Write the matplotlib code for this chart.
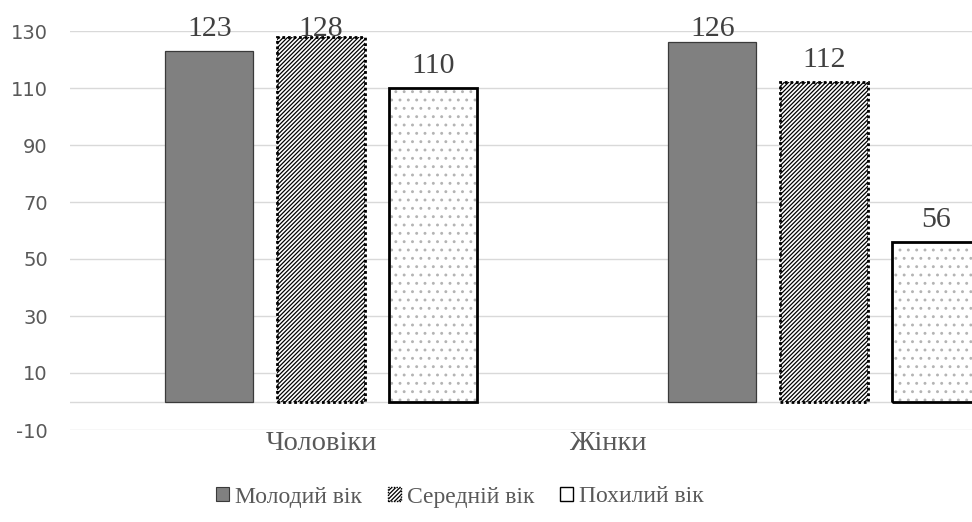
import matplotlib
matplotlib.use("Agg")
import matplotlib.pyplot as plt
import numpy as np
from matplotlib.patches import Patch
from matplotlib.transforms import ScaledTranslation

categories = ["Чоловіки", "Жінки"]
series_names = ["Молодий вік", "Середній вік", "Похилий вік"]
young = [123, 126]
middle = [128, 112]
old = [110, 56]
y_ticks = [-10, 10, 30, 50, 70, 90, 110, 130]

SERIF = ["Liberation Serif", "DejaVu Serif"]
TEXT_GREY = "#595959"
plt.rcParams["hatch.linewidth"] = 0.9

fig = plt.figure(figsize=(9.72, 5.22), dpi=100)
ax = fig.add_axes([70 / 972, 92 / 522, 902 / 972, 399 / 522])

x = np.arange(len(categories))
width = 0.175
step = 0.222

# young: solid grey
ax.bar(x - step, young, width, color="#808080", edgecolor="#3a3a3a",
       linewidth=0.9, zorder=3)
# middle: dense diagonal hatch with dotted outline
ax.bar(x, middle, width, facecolor="white", edgecolor="black", hatch="////////",
       linewidth=0, zorder=3)
ax.bar(x, middle, width, fill=False, edgecolor="black", linestyle=(0, (1, 1)),
       linewidth=2.0, zorder=4)
# old: fine light-grey dots with solid black outline
ax.bar(x + step, old, width, facecolor="white", edgecolor="#b4b4b4", hatch="..",
       linewidth=0, zorder=3)
ax.bar(x + step, old, width, fill=False, edgecolor="black", linewidth=2.0, zorder=4)

# value labels (kept inside the chart area at the top)
label_ceiling = 123
for offs, vals in ((-step, young), (0, middle), (step, old)):
    for xi, v in zip(x, vals):
        ax.annotate(f"{v}", (xi + offs, min(v, label_ceiling)),
                    xytext=(0, 11), textcoords="offset points",
                    ha="center", va="baseline", fontsize=21.5,
                    family=SERIF, color="#404040", annotation_clip=False)

ax.set_ylim(-10, 130)
ax.set_xlim(-0.499, 1.294)
ax.set_yticks(y_ticks)
ax.set_yticklabels([str(t) for t in y_ticks], fontsize=14, color=TEXT_GREY,
                   family=["DejaVu Sans"])
ax.tick_params(axis="y", length=0, pad=16)

ax.set_xticks(x)
ax.set_xticklabels(categories, fontsize=20.5, color=TEXT_GREY, family=SERIF)
ax.tick_params(axis="x", length=0, pad=1)
xl = ax.get_xticklabels()
xl[1].set_transform(xl[1].get_transform() + ScaledTranslation(-2.16, 0, fig.dpi_scale_trans))

for s in ax.spines.values():
    s.set_visible(False)
ax.grid(axis="y", color="#d9d9d9", linewidth=1.0, zorder=0)
ax.axhline(0, color="#d9d9d9", linewidth=1.0, zorder=1)
ax.set_axisbelow(True)

handles = [
    Patch(facecolor="#808080", edgecolor="#3a3a3a", linewidth=0.8),
    Patch(facecolor="white", edgecolor="black", hatch="////////", linewidth=1.0,
          linestyle=(0, (1, 1))),
    Patch(facecolor="white", edgecolor="black", linewidth=1.0),
]
leg = fig.legend(handles, series_names, loc="center", bbox_to_anchor=(460 / 972, 1 - 497 / 522),
                 ncol=3, frameon=False, prop={"family": SERIF, "size": 17},
                 handlelength=0.55, handleheight=0.55, handletextpad=0.25,
                 columnspacing=1.1)
for t in leg.get_texts():
    t.set_color(TEXT_GREY)

fig.savefig("out.png", dpi=100)
